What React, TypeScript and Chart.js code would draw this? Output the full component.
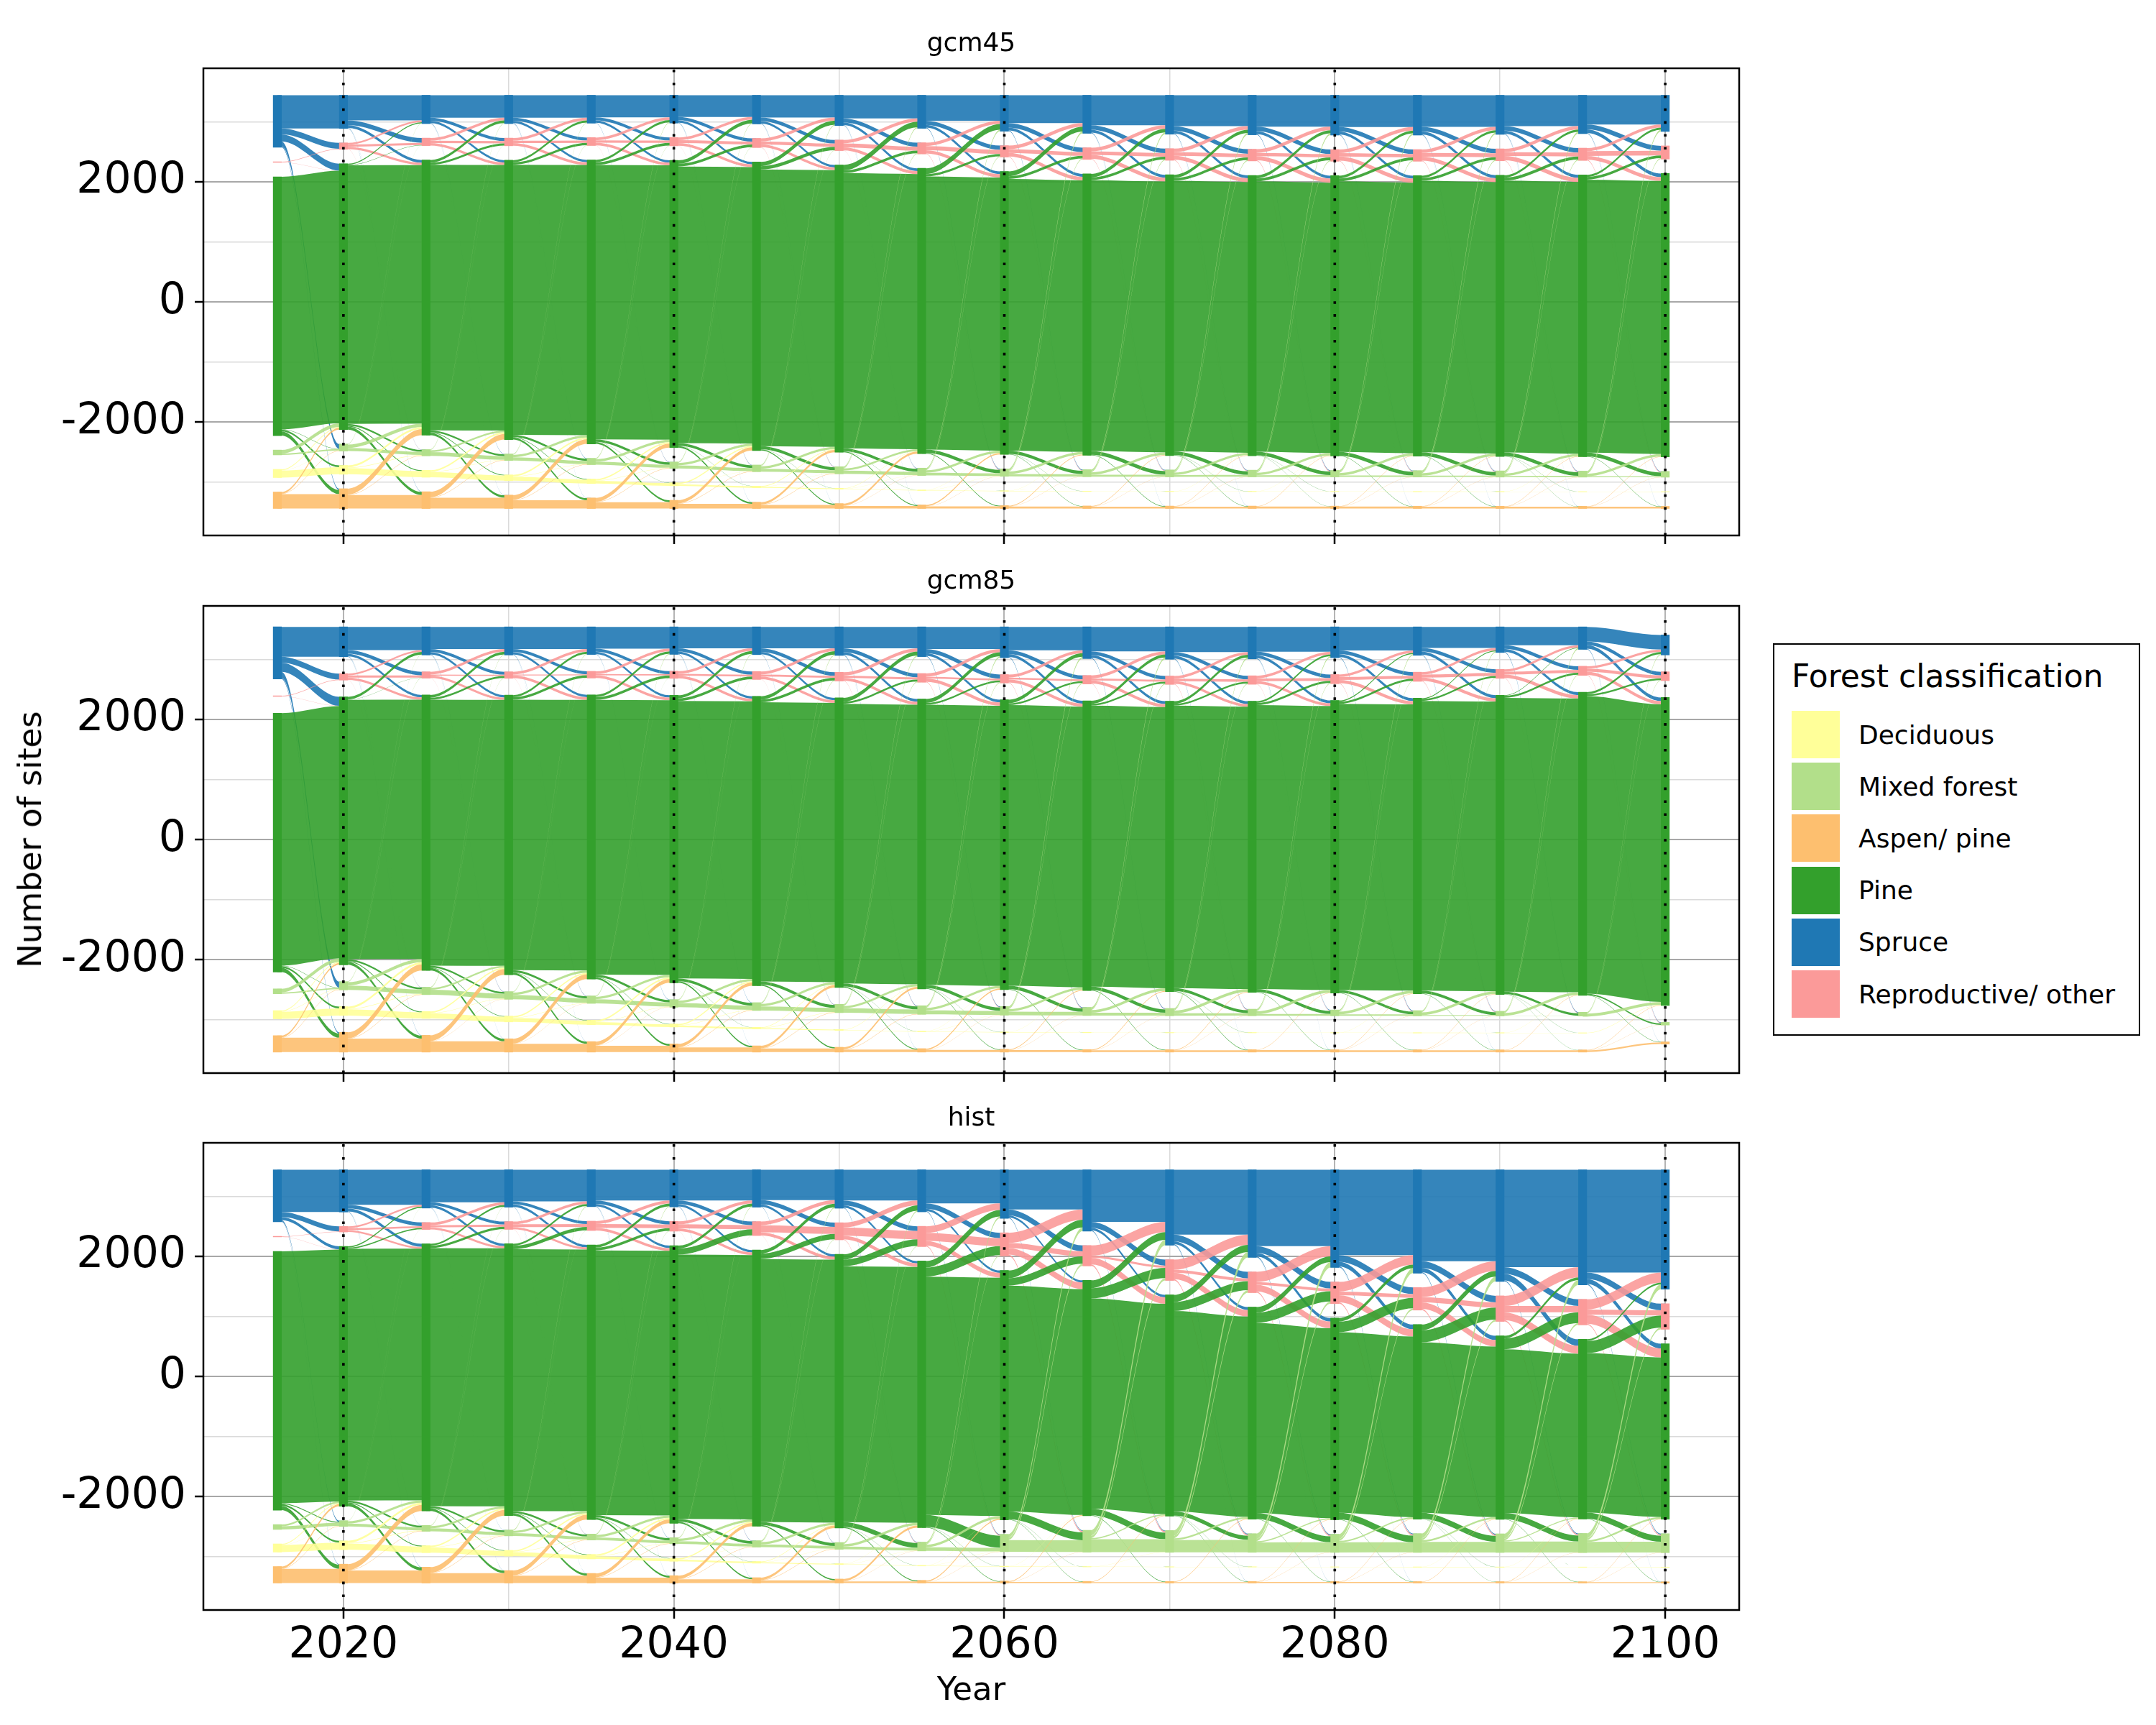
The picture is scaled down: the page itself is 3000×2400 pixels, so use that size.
import React, { useEffect, useRef } from "react";
import { Chart, registerables } from "chart.js";

Chart.register(...registerables);
Chart.defaults.font.family = "'DejaVu Sans', sans-serif";

// ---------------- data ----------------
const CATEGORIES = ["Deciduous", "Mixed forest", "Aspen/ pine", "Pine", "Spruce", "Reproductive/ other"];
const COLORS = ["#ffff99", "#b2df8a", "#fdbf6f", "#33a02c", "#1f78b4", "#fb9a99"];
// vertical stacking of the strata, top to bottom
const STACK_ORDER = ["Spruce", "Reproductive/ other", "Pine", "Mixed forest", "Deciduous", "Aspen/ pine"];
const YEARS = [2016, 2020, 2025, 2030, 2035, 2040, 2045, 2050, 2055, 2060, 2065, 2070, 2075, 2080, 2085, 2090, 2095, 2100];
// number of sites per class in 2016 (legend order)
const SITES_2016 = [137, 82, 275, 4310, 868, 10];

const SP = "Spruce";
const RE = "Reproductive/ other";
const PI = "Pine";
const MX = "Mixed forest";
const DE = "Deciduous";
const AS = "Aspen/ pine";

// sites moving between classes in each step (2016-20, 2020-25, ... 2095-2100)
const GCM45_TRANSITIONS = [
  [SP, RE, [100, 80, 50, 50, 50, 55, 60, 65, 70, 75, 75, 75, 75, 75, 75, 75, 80]],
  [SP, PI, [115, 45, 40, 40, 40, 40, 40, 45, 45, 48, 48, 48, 48, 48, 50, 50, 60]],
  [SP, MX, [80, 5, 5, 5, 5, 5, 5, 8, 10, 10, 10, 10, 10, 10, 10, 10, 10]],
  [SP, AS, [20, 5, 3, 3, 2, 2, 2, 2, 2, 2, 2, 2, 2, 2, 2, 2, 2]],
  [RE, SP, [0, 30, 45, 45, 45, 45, 50, 55, 55, 60, 60, 60, 60, 60, 55, 55, 50]],
  [RE, PI, [2, 40, 40, 45, 45, 45, 45, 50, 55, 60, 65, 65, 70, 70, 65, 70, 65]],
  [RE, MX, [0, 2, 2, 2, 2, 2, 5, 5, 8, 10, 10, 10, 10, 10, 10, 10, 10]],
  [PI, SP, [0, 20, 45, 35, 40, 60, 70, 90, 95, 80, 60, 55, 50, 45, 40, 40, 35]],
  [PI, RE, [0, 5, 35, 40, 45, 45, 55, 45, 40, 45, 45, 45, 50, 50, 45, 50, 45]],
  [PI, MX, [5, 30, 30, 35, 40, 45, 50, 50, 55, 55, 60, 60, 60, 60, 60, 60, 60]],
  [PI, DE, [30, 15, 10, 8, 5, 3, 2, 2, 2, 1, 1, 1, 1, 1, 1, 1, 1]],
  [PI, AS, [70, 50, 40, 35, 30, 25, 20, 15, 10, 8, 8, 8, 5, 5, 5, 5, 5]],
  [MX, SP, [0, 5, 8, 10, 10, 12, 15, 20, 25, 30, 30, 30, 30, 30, 30, 30, 30]],
  [MX, RE, [0, 5, 5, 5, 5, 5, 8, 10, 12, 15, 15, 15, 15, 15, 15, 15, 15]],
  [MX, PI, [60, 55, 30, 40, 40, 40, 40, 35, 40, 40, 40, 40, 40, 40, 40, 40, 40]],
  [DE, PI, [15, 35, 25, 25, 25, 20, 10, 5, 3, 2, 1, 1, 1, 1, 1, 1, 1]],
  [DE, MX, [5, 10, 5, 5, 5, 5, 5, 2, 1, 1, 1, 0, 0, 0, 0, 0, 0]],
  [AS, PI, [30, 100, 95, 80, 65, 55, 40, 35, 20, 12, 10, 8, 6, 6, 6, 6, 6]],
  [AS, MX, [5, 5, 5, 5, 5, 5, 5, 5, 3, 3, 2, 2, 2, 2, 2, 2, 2]],
];

const GCM85_TRANSITIONS = [
  [SP, RE, [100, 60, 50, 50, 50, 55, 60, 65, 70, 65, 60, 60, 60, 60, 60, 60, 60]],
  [SP, PI, [150, 40, 40, 40, 40, 40, 40, 45, 45, 48, 48, 48, 48, 48, 50, 50, 60]],
  [SP, MX, [100, 5, 5, 5, 5, 5, 5, 8, 10, 10, 10, 10, 10, 10, 10, 10, 10]],
  [SP, AS, [20, 5, 3, 3, 2, 2, 2, 2, 2, 2, 2, 2, 2, 2, 2, 2, 2]],
  [RE, SP, [0, 30, 45, 45, 45, 45, 50, 55, 55, 50, 50, 45, 45, 40, 40, 40, 40]],
  [RE, PI, [2, 40, 40, 45, 45, 45, 45, 50, 55, 50, 50, 45, 45, 55, 55, 55, 55]],
  [RE, MX, [0, 2, 2, 2, 2, 2, 5, 5, 8, 8, 8, 8, 8, 8, 8, 8, 8]],
  [PI, SP, [0, 45, 45, 35, 40, 50, 55, 65, 65, 60, 50, 45, 30, 20, 15, 10, 35]],
  [PI, RE, [0, 5, 35, 40, 45, 45, 45, 35, 30, 30, 30, 30, 35, 35, 30, 35, 30]],
  [PI, MX, [5, 30, 30, 35, 40, 45, 50, 50, 55, 55, 55, 50, 50, 45, 45, 40, 25]],
  [PI, DE, [30, 15, 10, 8, 5, 3, 2, 2, 2, 1, 1, 1, 1, 1, 1, 1, 0]],
  [PI, AS, [70, 50, 40, 35, 30, 25, 20, 15, 10, 8, 8, 8, 5, 5, 5, 5, 5]],
  [MX, SP, [0, 5, 8, 10, 10, 12, 15, 20, 25, 30, 30, 25, 25, 20, 20, 20, 15]],
  [MX, RE, [0, 5, 5, 5, 5, 5, 8, 10, 12, 15, 15, 12, 12, 10, 10, 10, 8]],
  [MX, PI, [60, 55, 30, 40, 40, 40, 40, 35, 40, 40, 45, 45, 45, 45, 45, 45, 50]],
  [DE, PI, [15, 35, 25, 25, 25, 20, 10, 5, 3, 2, 1, 1, 1, 1, 1, 1, 5]],
  [DE, MX, [5, 10, 5, 5, 5, 5, 5, 2, 1, 1, 1, 0, 0, 0, 0, 0, 0]],
  [AS, PI, [30, 100, 95, 80, 65, 55, 40, 35, 20, 12, 10, 8, 6, 6, 6, 6, 6]],
  [AS, MX, [5, 5, 5, 5, 5, 5, 5, 5, 3, 3, 2, 2, 2, 2, 2, 2, 2]],
];

const HIST_TRANSITIONS = [
  [SP, RE, [85, 60, 50, 50, 55, 60, 70, 80, 90, 98, 100, 110, 110, 110, 110, 110, 110]],
  [SP, PI, [50, 50, 40, 40, 40, 40, 40, 40, 40, 36, 40, 50, 60, 80, 70, 110, 80]],
  [SP, MX, [20, 5, 5, 5, 5, 5, 5, 8, 10, 12, 12, 15, 15, 15, 15, 15, 15]],
  [SP, AS, [10, 5, 3, 3, 2, 2, 2, 2, 2, 2, 2, 2, 2, 2, 2, 2, 2]],
  [RE, SP, [0, 30, 45, 45, 50, 50, 60, 80, 110, 170, 170, 170, 170, 160, 160, 170, 170]],
  [RE, PI, [2, 30, 35, 35, 45, 45, 50, 60, 80, 110, 110, 110, 110, 120, 110, 130, 150]],
  [RE, MX, [0, 2, 2, 2, 2, 2, 5, 8, 15, 24, 24, 20, 20, 20, 20, 20, 20]],
  [PI, SP, [0, 20, 30, 35, 45, 50, 60, 90, 110, 130, 130, 120, 95, 60, 95, 45, 30]],
  [PI, RE, [0, 20, 40, 55, 45, 100, 90, 110, 150, 122, 170, 150, 170, 175, 200, 180, 200]],
  [PI, MX, [15, 30, 30, 35, 40, 45, 50, 80, 200, 130, 110, 70, 100, 110, 100, 100, 100]],
  [PI, DE, [30, 15, 10, 8, 5, 3, 2, 2, 2, 1, 1, 1, 1, 1, 1, 1, 1]],
  [PI, AS, [70, 50, 40, 35, 30, 25, 20, 15, 10, 8, 8, 8, 5, 5, 5, 5, 5]],
  [MX, SP, [0, 5, 8, 10, 10, 12, 15, 20, 30, 60, 90, 90, 90, 80, 80, 80, 80]],
  [MX, RE, [0, 5, 5, 5, 5, 5, 8, 10, 15, 36, 40, 40, 35, 30, 30, 30, 30]],
  [MX, PI, [30, 40, 35, 35, 40, 40, 40, 40, 40, 0, 20, 30, 20, 25, 30, 20, 30]],
  [DE, PI, [15, 35, 25, 25, 25, 20, 10, 5, 3, 2, 1, 1, 1, 1, 1, 1, 1]],
  [DE, MX, [5, 10, 5, 5, 5, 5, 5, 2, 1, 1, 1, 0, 0, 0, 0, 0, 0]],
  [AS, PI, [35, 100, 95, 80, 65, 55, 40, 35, 20, 12, 10, 8, 6, 6, 6, 6, 6]],
  [AS, MX, [5, 5, 5, 5, 5, 5, 5, 5, 3, 3, 2, 2, 2, 2, 2, 2, 2]],
];

const PANEL_NAMES = ["gcm45", "gcm85", "hist"];
const PANEL_TRANSITIONS = [GCM45_TRANSITIONS, GCM85_TRANSITIONS, HIST_TRANSITIONS];

const Y_GRID = [-3000, -2000, -1000, 0, 1000, 2000, 3000];
const Y_LABELED = [-2000, 0, 2000];
const X_GRID = [2020, 2030, 2040, 2050, 2060, 2070, 2080, 2090, 2100];
const X_LABELED = [2020, 2040, 2060, 2080, 2100];
const DOTTED_YEARS = [2020, 2040, 2060, 2080, 2100];

// ---------------- layout / style ----------------
const X_MIN = 2011.525;
const X_MAX = 2104.475;
const Y_MIN = -3890;
const Y_MAX = 3890;
const PANEL_GAP = [240, 280, 240]; // blank space between strata
const HALF = 0.25; // stratum half width in years
const PLOT_LEFT = 283;
const PLOT_RIGHT = 2420;
const PLOT_TOPS = [95, 843, 1590];
const PLOT_H = 650;
const PAD_TOP = 60;
const CANVAS_W = PLOT_RIGHT + 20;

function rgba(hex, a) {
  const n = parseInt(hex.slice(1), 16);
  return `rgba(${(n >> 16) & 255},${(n >> 8) & 255},${n & 255},${a})`;
}

function buildDatasets(transitions, gap) {
  const nC = CATEGORIES.length;
  const ci = (name) => CATEGORIES.indexOf(name);
  const order = STACK_ORDER.map(ci);
  const sizes = [SITES_2016.slice()];
  const mats = [];
  for (let p = 0; p < YEARS.length - 1; p++) {
    const s = sizes[p];
    const F = Array.from({ length: nC }, () => new Array(nC).fill(0));
    for (const [a, b, vals] of transitions) F[ci(a)][ci(b)] += vals[p] || 0;
    for (let i = 0; i < nC; i++) {
      let out = 0;
      for (let j = 0; j < nC; j++) if (j !== i) out += F[i][j];
      F[i][i] = Math.max(0, s[i] - out);
    }
    const next = new Array(nC).fill(0);
    for (let i = 0; i < nC; i++) for (let j = 0; j < nC; j++) next[j] += F[i][j];
    sizes.push(next);
    mats.push(F);
  }
  const tops = sizes.map((s) => {
    const present = order.filter((c) => s[c] > 0);
    const total = present.reduce((acc, c) => acc + s[c], 0) + gap * (present.length - 1);
    let cur = total / 2;
    const top = new Array(nC).fill(0);
    for (const c of order) {
      top[c] = cur;
      if (s[c] > 0) cur -= s[c] + gap;
    }
    return top;
  });

  const flowSets = [];
  mats.forEach((F, p) => {
    const t0 = YEARS[p];
    const t1 = YEARS[p + 1];
    const srcTop = {};
    const dstTop = {};
    const cur = tops[p].slice();
    for (const i of order)
      for (const j of order)
        if (F[i][j] > 0) {
          srcTop[i + "-" + j] = cur[i];
          cur[i] -= F[i][j];
        }
    const cur2 = tops[p + 1].slice();
    for (const j of order)
      for (const i of order)
        if (F[i][j] > 0) {
          dstTop[i + "-" + j] = cur2[j];
          cur2[j] -= F[i][j];
        }
    order.forEach((i, rank) => {
      for (const j of order) {
        const f = F[i][j];
        if (!(f > 0)) continue;
        const a = srcTop[i + "-" + j];
        const b = dstTop[i + "-" + j];
        const edge = (d) => [
          { x: t0, y: a - d },
          { x: t0 + HALF, y: a - d },
          { x: t1 - HALF, y: b - d },
          { x: t1, y: b - d },
        ];
        // flows of classes lower in the stack are drawn above those higher in the stack
        const base = {
          type: "line",
          borderColor: "rgba(0,0,0,0)",
          borderWidth: 0,
          pointRadius: 0,
          pointHoverRadius: 0,
          cubicInterpolationMode: "monotone",
          order: 2 + (order.length - rank),
        };
        flowSets.push({ ...base, data: edge(0), fill: false });
        flowSets.push({ ...base, data: edge(f), fill: "-1", backgroundColor: rgba(COLORS[i], 0.9) });
      }
    });
  });

  const pxPerYear = (PLOT_RIGHT - PLOT_LEFT) / (X_MAX - X_MIN);
  const strata = order.map((c) => ({
    type: "bar",
    data: YEARS.map((yr, t) => ({ x: yr, y: [tops[t][c] - sizes[t][c], tops[t][c]] })).filter(
      (_, t) => sizes[t][c] > 0
    ),
    backgroundColor: COLORS[c],
    borderWidth: 0,
    barThickness: 2 * HALF * pxPerYear,
    grouped: false,
    order: 1,
  }));

  const dotted = DOTTED_YEARS.map((yr) => ({
    type: "line",
    data: [
      { x: yr, y: Y_MIN },
      { x: yr, y: Y_MAX },
    ],
    borderColor: "#000",
    borderWidth: 3.6,
    borderDash: [3.6, 14.3],
    pointRadius: 0,
    fill: false,
    order: 0,
  }));

  return [...dotted, ...strata, ...flowSets];
}

const framePlugin = {
  id: "frame",
  afterDraw(chart) {
    const { ctx, chartArea } = chart;
    ctx.save();
    ctx.strokeStyle = "#000";
    ctx.lineWidth = 2.5;
    ctx.strokeRect(chartArea.left, chartArea.top, chartArea.right - chartArea.left, chartArea.bottom - chartArea.top);
    ctx.restore();
  },
};

function Panel({ index }) {
  const ref = useRef(null);
  const showX = index === 2;
  const bottomH = showX ? 120 : 60;
  const H = PAD_TOP + PLOT_H + bottomH;
  useEffect(() => {
    const datasets = buildDatasets(PANEL_TRANSITIONS[index], PANEL_GAP[index]);
    const chart = new Chart(ref.current, {
      type: "line",
      data: { datasets },
      options: {
        animation: false,
        responsive: false,
        events: [],
        layout: { padding: { top: PAD_TOP, right: CANVAS_W - PLOT_RIGHT, bottom: 0, left: 0 } },
        plugins: { legend: { display: false }, tooltip: { enabled: false }, title: { display: false } },
        scales: {
          x: {
            type: "linear",
            min: X_MIN,
            max: X_MAX,
            offset: false,
            afterBuildTicks: (scale) => {
              scale.ticks = X_GRID.map((v) => ({ value: v }));
            },
            afterFit: (scale) => {
              scale.height = bottomH;
            },
            ticks: {
              autoSkip: false,
              maxRotation: 0,
              padding: 2,
              color: "#000",
              font: { size: 60, family: "'DejaVu Sans', sans-serif" },
              callback: (v) => (showX && X_LABELED.includes(v) ? String(v) : ""),
            },
            grid: {
              offset: false,
              color: (ctx) => (ctx.tick && X_LABELED.includes(ctx.tick.value) ? "#b4b4b4" : "#dadada"),
              lineWidth: (ctx) => (ctx.tick && X_LABELED.includes(ctx.tick.value) ? 2 : 1.5),
              tickColor: (ctx) => (ctx.tick && X_LABELED.includes(ctx.tick.value) ? "#000" : "rgba(0,0,0,0)"),
              tickLength: 12,
              tickWidth: 2.5,
            },
            border: { display: false },
          },
          y: {
            type: "linear",
            min: Y_MIN,
            max: Y_MAX,
            afterBuildTicks: (scale) => {
              scale.ticks = Y_GRID.map((v) => ({ value: v }));
            },
            afterFit: (scale) => {
              scale.width = PLOT_LEFT;
            },
            ticks: {
              autoSkip: false,
              padding: 12,
              color: "#000",
              font: { size: 60, family: "'DejaVu Sans', sans-serif" },
              callback: (v) => (Y_LABELED.includes(v) ? String(v) : ""),
            },
            grid: {
              color: (ctx) => (ctx.tick && Y_LABELED.includes(ctx.tick.value) ? "#a8a8a8" : "#dadada"),
              lineWidth: (ctx) => (ctx.tick && Y_LABELED.includes(ctx.tick.value) ? 2 : 1.5),
              tickColor: (ctx) => (ctx.tick && Y_LABELED.includes(ctx.tick.value) ? "#000" : "rgba(0,0,0,0)"),
              tickLength: 12,
              tickWidth: 2.5,
            },
            border: { display: false },
          },
        },
      },
      plugins: [framePlugin],
    });
    return () => chart.destroy();
  }, [index]);
  return (
    <canvas
      ref={ref}
      width={CANVAS_W}
      height={H}
      style={{ position: "absolute", left: 0, top: PLOT_TOPS[index] - PAD_TOP, width: CANVAS_W, height: H }}
    />
  );
}

const LEGEND_ORDER = ["Deciduous", "Mixed forest", "Aspen/ pine", "Pine", "Spruce", "Reproductive/ other"];

export default function App() {
  const font = "'DejaVu Sans', sans-serif";
  return (
    <div style={{ position: "absolute", left: 0, top: 0, width: 3000, height: 2400, background: "#fff", fontFamily: font, color: "#000" }}>
      {PANEL_NAMES.map((_, i) => (
        <Panel key={i} index={i} />
      ))}
      {PANEL_NAMES.map((name, i) => (
        <div
          key={name}
          style={{
            position: "absolute",
            left: PLOT_LEFT,
            width: PLOT_RIGHT - PLOT_LEFT,
            top: PLOT_TOPS[i] - 57,
            height: 42,
            lineHeight: "42px",
            textAlign: "center",
            fontSize: 36,
          }}
        >
          {name}
        </div>
      ))}
      <div
        style={{
          position: "absolute",
          left: 42,
          top: 1168,
          transform: "translate(-50%, -50%) rotate(-90deg)",
          whiteSpace: "nowrap",
          fontSize: 45,
          lineHeight: "54px",
        }}
      >
        Number of sites
      </div>
      <div
        style={{
          position: "absolute",
          left: PLOT_LEFT,
          width: PLOT_RIGHT - PLOT_LEFT,
          top: 2323,
          lineHeight: "54px",
          textAlign: "center",
          fontSize: 45,
        }}
      >
        Year
      </div>
      <div
        style={{
          position: "absolute",
          left: 2467,
          top: 895,
          width: 511,
          height: 546,
          boxSizing: "border-box",
          border: "2.5px solid #000",
          background: "#fff",
        }}
      >
        <div style={{ position: "absolute", left: 24, top: 17, fontSize: 44, lineHeight: "53px", whiteSpace: "nowrap" }}>
          Forest classification
        </div>
        {LEGEND_ORDER.map((name, k) => (
          <div key={name} style={{ position: "absolute", left: 24, top: 92 + k * 72.2, height: 66, display: "flex", alignItems: "center" }}>
            <div style={{ width: 67, height: 66, background: COLORS[CATEGORIES.indexOf(name)] }} />
            <div style={{ marginLeft: 26, fontSize: 36, whiteSpace: "nowrap" }}>{name}</div>
          </div>
        ))}
      </div>
    </div>
  );
}
